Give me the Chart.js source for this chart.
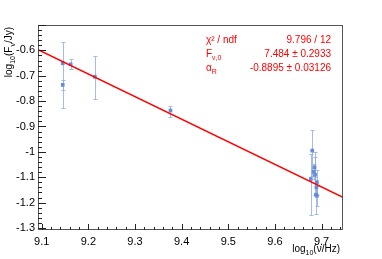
<!DOCTYPE html>
<html>
<head>
<meta charset="utf-8">
<script src="https://cdn.jsdelivr.net/npm/chart.js@4.4.0/dist/chart.umd.min.js"></script>
<style>
    html, body { margin: 0; padding: 0; background: #fff; }
</style>
</head>
<body>
<canvas id="chart" width="382" height="259"></canvas>
<script>
// Measured points: log10(nu/Hz), log10(F/Jy) and the error bar ends
const logNu   = [9.145, 9.145, 9.162, 9.214, 9.376, 9.680, 9.685, 9.683, 9.686, 9.677, 9.690, 9.689, 9.688, 9.690];
const logF    = [-0.651, -0.736, -0.655, -0.704, -0.837, -0.995, -1.061, -1.078, -1.090, -1.107, -1.120, -1.140, -1.169, -1.173];
const errUp   = [0.085, 0.020, 0.022, 0.082, 0.018, 0.083, 0.040, 0.030, 0.090, 0.100, 0.050, 0.030, 0.050, 0.040];
const errDown = [0.175, 0.020, 0.018, 0.087, 0.024, 0.100, 0.040, 0.030, 0.080, 0.141, 0.050, 0.030, 0.076, 0.040];

// Fitted power law, ends of the red line
const fitX = [9.092, 9.746];
const fitY = [-0.597, -1.179];

const xTicks = [9.1, 9.2, 9.3, 9.4, 9.5, 9.6, 9.7];
const xTickLabels = ['9.1', '9.2', '9.3', '9.4', '9.5', '9.6', '9.7'];
const yTicks = [-1.3, -1.2, -1.1, -1.0, -0.9, -0.8, -0.7, -0.6];
const yTickLabels = ['-1.3', '-1.2', '-1.1', '-1', '-0.9', '-0.8', '-0.7', '-0.6'];

const statNames = [['\u03c7\u00b2 / ndf', ''], ['F', '\u03bd,0'], ['\u03b1', 'R']];
const statValues = ['9.796 / 12', '7.484 \u00b1 0.2933', '-0.8895 \u00b1 0.03126'];

const FONT = "'Liberation Sans', Arial, sans-serif";

function pickLabel(ticks, labels, v) {
    const i = ticks.findIndex(t => Math.abs(t - v) < 1e-6);
    return i >= 0 ? labels[i] : '';
}

// text with a lowered small part, like ROOT's #nu_{...}
function subText(ctx, parts, x, y, size) {
    let cx = x;
    parts.forEach(p => {
        if (p.sub) {
            ctx.font = (size * 0.7) + 'px ' + FONT;
            ctx.fillText(p.t, cx, y + size * 0.3);
        } else {
            ctx.font = size + 'px ' + FONT;
            ctx.fillText(p.t, cx, y);
        }
        cx += ctx.measureText(p.t).width;
    });
    return cx - x;
}
function subWidth(ctx, parts, size) {
    let w = 0;
    parts.forEach(p => {
        ctx.font = (p.sub ? size * 0.7 : size) + 'px ' + FONT;
        w += ctx.measureText(p.t).width;
    });
    return w;
}

const errorBars = {
    id: 'errorBars',
    beforeDatasetsDraw(chart) {
        const ctx = chart.ctx;
        const xs = chart.scales.x, ys = chart.scales.y;
        ctx.save();
        ctx.strokeStyle = 'rgba(150,175,225,0.85)';
        ctx.lineWidth = 1;
        logNu.forEach((nu, i) => {
            const px = Math.round(xs.getPixelForValue(nu)) + 0.5;
            const top = Math.round(ys.getPixelForValue(logF[i] + errUp[i])) + 0.5;
            const bot = Math.round(ys.getPixelForValue(logF[i] - errDown[i])) + 0.5;
            ctx.beginPath();
            ctx.moveTo(px, top); ctx.lineTo(px, bot);
            ctx.moveTo(px - 2, top); ctx.lineTo(px + 2, top);
            ctx.moveTo(px - 2, bot); ctx.lineTo(px + 2, bot);
            ctx.stroke();
        });
        ctx.restore();
    }
};

const frameAndText = {
    id: 'frameAndText',
    afterDraw(chart) {
        const ctx = chart.ctx;
        const a = chart.chartArea;
        const xs = chart.scales.x, ys = chart.scales.y;
        ctx.save();
        ctx.strokeStyle = '#555';
        ctx.lineWidth = 1;
        ctx.strokeRect(Math.round(a.left) + 0.5, Math.round(a.top) + 0.5,
                       Math.round(a.right - a.left) - 1, Math.round(a.bottom - a.top) - 1);

        // inward ticks, ROOT style
        ctx.strokeStyle = '#222';
        ctx.beginPath();
        for (let k = -65; k <= -25; k++) {
            const v = k * 0.02;
            if (v < ys.min || v > ys.max) continue;
            const py = Math.round(ys.getPixelForValue(v)) + 0.5;
            const len = (k % 5 === 0) ? 8 : 4;
            ctx.moveTo(a.left, py); ctx.lineTo(a.left + len, py);
        }
        for (let k = 454; k <= 488; k++) {
            const v = k * 0.02;
            if (v < xs.min || v > xs.max) continue;
            const px = Math.round(xs.getPixelForValue(v)) + 0.5;
            const len = (k % 5 === 0) ? 6 : 3;
            ctx.moveTo(px, a.bottom); ctx.lineTo(px, a.bottom - len);
        }
        ctx.stroke();

        // axis titles
        ctx.fillStyle = '#000';
        ctx.textBaseline = 'alphabetic';
        const xTitle = [{t: 'log'}, {t: '10', sub: true}, {t: '(\u03bd/Hz)'}];
        const wx = subWidth(ctx, xTitle, 10);
        subText(ctx, xTitle, a.right - 3 - wx, 252, 10);

        const yTitle = [{t: 'log'}, {t: '10', sub: true}, {t: '(F'}, {t: '\u03bd', sub: true}, {t: '/Jy)'}];
        const wy = subWidth(ctx, yTitle, 10);
        ctx.translate(12, a.top + 2);
        ctx.rotate(-Math.PI / 2);
        subText(ctx, yTitle, -wy, 0, 10);
        ctx.setTransform(1, 0, 0, 1, 0, 0);

        // fit results
        ctx.fillStyle = '#f00';
        statNames.forEach((n, i) => {
            const y = 43 + i * 14;
            const parts = [{t: n[0]}];
            if (n[1]) parts.push({t: n[1], sub: true});
            subText(ctx, parts, 206, y, 10);
            ctx.font = '10px ' + FONT;
            ctx.textAlign = 'right';
            ctx.fillText(statValues[i], 331, y);
            ctx.textAlign = 'left';
        });
        ctx.restore();
    }
};

new Chart(document.getElementById('chart'), {
    type: 'scatter',
    data: {
        datasets: [
            {
                type: 'line',
                data: fitX.map((x, i) => ({x: x, y: fitY[i]})),
                borderColor: '#ff0000',
                borderWidth: 1.6,
                pointRadius: 0,
                fill: false
            },
            {
                data: logNu.map((x, i) => ({x: x, y: logF[i]})),
                backgroundColor: 'rgb(100,140,215)',
                borderColor: 'rgb(100,140,215)',
                borderWidth: 0,
                pointStyle: 'rect',
                pointRadius: 2.6
            }
        ]
    },
    options: {
        responsive: false,
        animation: false,
        devicePixelRatio: 1,
        layout: { padding: { top: 25, right: 39, left: 0, bottom: 0 } },
        plugins: { legend: { display: false }, tooltip: { enabled: false } },
        scales: {
            x: {
                type: 'linear',
                min: 9.092,
                max: 9.746,
                afterBuildTicks: s => { s.ticks = xTicks.map(v => ({value: v})); },
                afterFit: s => { s.height = 29; },
                grid: { display: false, drawTicks: false },
                border: { display: false },
                ticks: {
                    padding: 5,
                    color: '#000',
                    font: { family: FONT, size: 11 },
                    maxRotation: 0,
                    callback: v => pickLabel(xTicks, xTickLabels, v)
                }
            },
            y: {
                type: 'linear',
                min: -1.308,
                max: -0.5,
                afterBuildTicks: s => { s.ticks = yTicks.map(v => ({value: v})); },
                afterFit: s => { s.width = 38; },
                grid: { display: false, drawTicks: false },
                border: { display: false },
                ticks: {
                    padding: 3,
                    color: '#000',
                    font: { family: FONT, size: 11 },
                    callback: v => pickLabel(yTicks, yTickLabels, v)
                }
            }
        }
    },
    plugins: [errorBars, frameAndText]
});
</script>
</body>
</html>
